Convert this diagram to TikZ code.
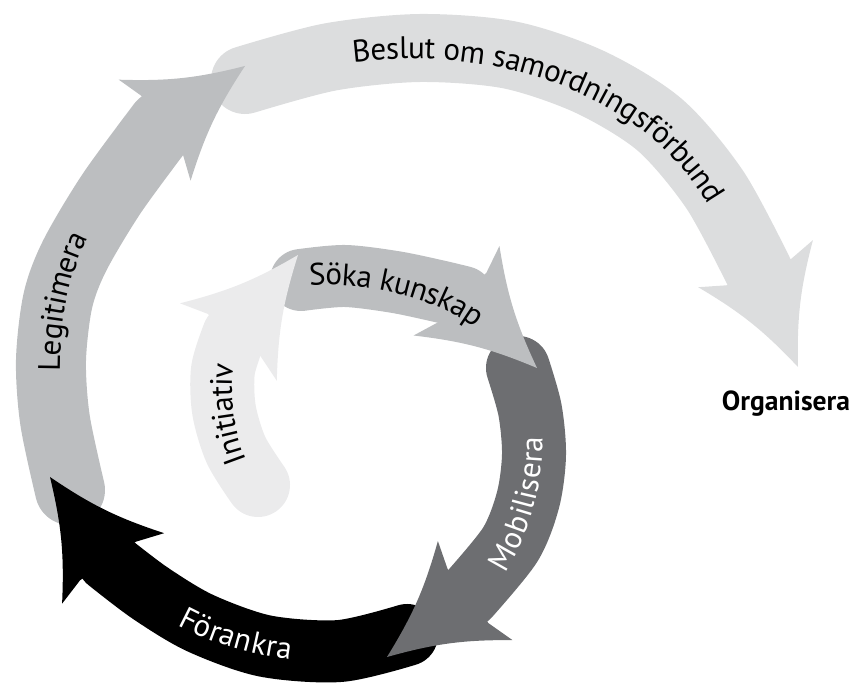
\documentclass[tikz,border=0pt]{standalone}
\usepackage{fontspec}
\setmainfont{PT Sans}
\usetikzlibrary{calc,decorations.text}

\definecolor{palest}{HTML}{EBEBEC}
\definecolor{pale}{HTML}{DCDDDE}
\definecolor{midgrey}{HTML}{BCBEC0}
\definecolor{darkgrey}{HTML}{6D6E71}

% one drawing unit is a quarter point
\newcommand\arcfont{\fontsize{7.75}{8.5}\selectfont}

\tikzset{
  band/.style={line width=#1, line cap=round, line join=round},
  arclabel/.style 2 args={decorate, decoration={text along path, text align=center,
      raise=-2.4pt, text color=#1, text={|\arcfont|#2}}},
}

% arrow head: name, base centre, tip, half width of base, fill colour
\newcommand\spiralhead[5]{%
  \coordinate (#1-back) at ($(#2)!-2.25pt!(#3)$);
  \coordinate (#1-n1) at ($(#2)!#4!90:(#3)$);
  \coordinate (#1-n2) at ($(#2)!#4!-90:(#3)$);
  \coordinate (#1-b1) at ($(#1-back)!15.5pt!90:(#3)$);
  \coordinate (#1-b2) at ($(#1-back)!15.5pt!-90:(#3)$);
  \coordinate (#1-tip) at (#3);
  \fill[#5] (#1-n1) -- (#1-b1) to[bend right=8] (#1-tip)
        to[bend right=8] (#1-b2) -- (#1-n2) -- cycle;
}

\begin{document}
\begin{tikzpicture}[x=0.25pt,y=-0.25pt]
\useasboundingbox (0,0) rectangle (858,684);

% Beslut om samordningsförbund
\draw[pale, band=17pt] plot[smooth] coordinates
  {(245,80) (330,57) (420,48) (510,55) (590,82) (660,125) (715,190) (759,272)};
\spiralhead{beslut}{759,272}{798,367}{8.75pt}{pale}

% Legitimera
\draw[midgrey, band=17.5pt] plot[smooth] coordinates
  {(70,490) (55,420) (51,360) (58,300) (75,255) (112,193) (162,125)};
\spiralhead{legit}{162,125}{245,66}{9pt}{midgrey}

% Förankra
\draw[black, band=15.5pt] plot[smooth] coordinates
  {(407,635) (340,651) (265,646) (200,623) (150,593) (108,561)};
\spiralhead{foer}{108,561}{50,477}{8.5pt}{black}

% Mobilisera
\draw[darkgrey, band=16pt] plot[smooth] coordinates
  {(518,368) (530,410) (534,455) (528,500) (510,545) (468,596)};
\spiralhead{mobil}{468,596}{387,657}{8.5pt}{darkgrey}

% Söka kunskap
\draw[midgrey, band=15.5pt] plot[smooth] coordinates
  {(301,280) (345,276) (395,282) (438,291) (463,297)};
\spiralhead{soka}{463,297}{537,368}{8.5pt}{midgrey}

% Initiativ
\draw[palest, band=16pt] plot[smooth] coordinates
  {(258,485) (236,450) (224,410) (223,370) (234,335)};
\spiralhead{init}{234,335}{298,255}{8.5pt}{palest}

% labels along the arrows
\path[arclabel={black}{Beslut om samordningsförbund}]
  (335,55) .. controls (495,30) and (660,85) .. (725,215);
\path[arclabel={black}{Söka kunskap}]
  (303,277) .. controls (360,270) and (440,287) .. (485,324);
\path[arclabel={black}{Initiativ}]
  (250,490) .. controls (220,440) and (215,370) .. (232,335);
\path[arclabel={black}{Legitimera}]
  (52,400) .. controls (45,340) and (60,250) .. (95,210);
\path[arclabel={white}{Mobilisera}]
  (480,590) .. controls (525,540) and (540,460) .. (530,410);
\path[arclabel={white}{Förankra}]
  (150,595) .. controls (190,630) and (270,655) .. (330,651);

\node[anchor=base, font=\bfseries\fontsize{6.9}{7.8}\selectfont] (organisera) at (786,411) {Organisera};
\end{tikzpicture}
\end{document}
